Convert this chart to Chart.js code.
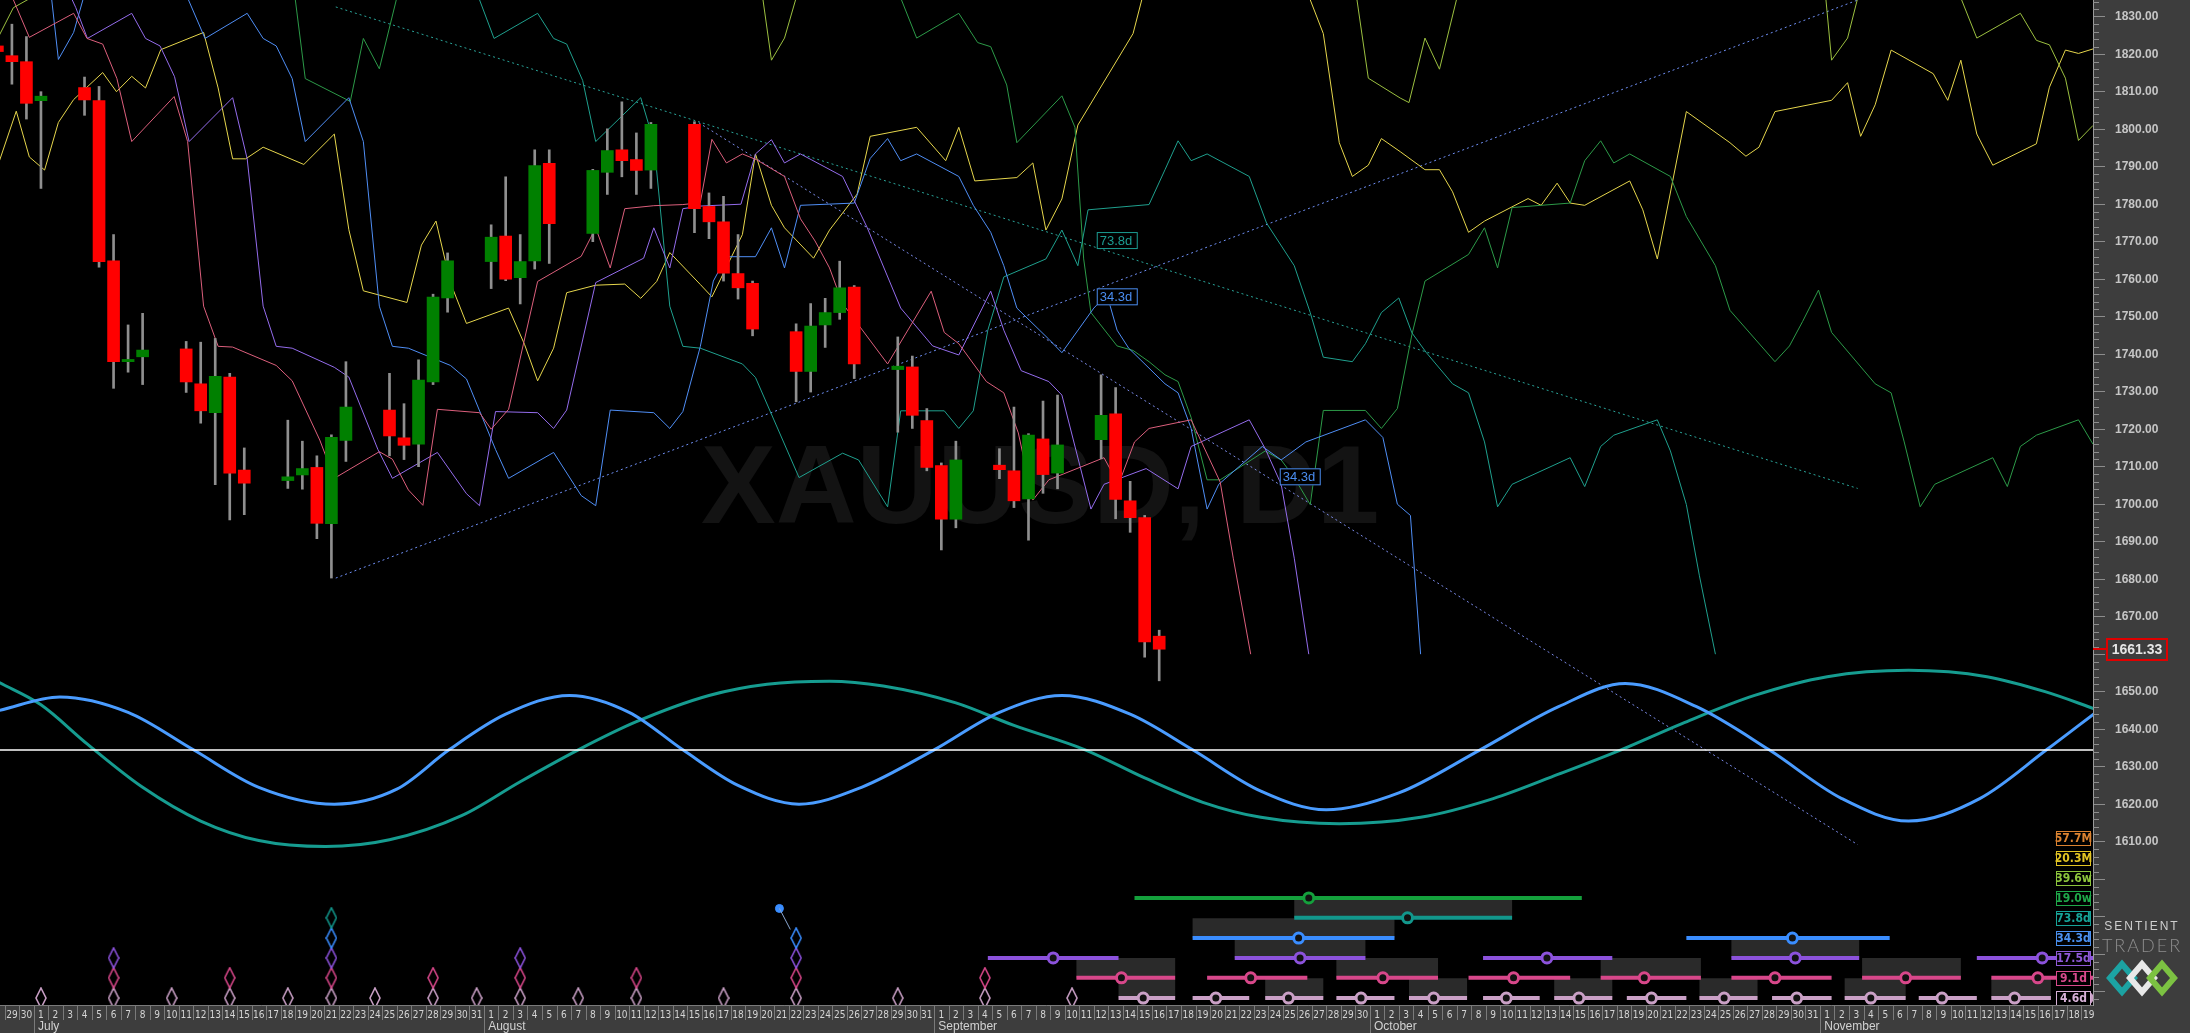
<!DOCTYPE html>
<html>
<head>
<meta charset="utf-8">
<title>XAUUSD, D1</title>
<script src="https://cdn.jsdelivr.net/npm/chart.js@4.4.1/dist/chart.umd.min.js"></script>
<style>
    html, body { margin: 0; padding: 0; background: #3d3d3d; }
    #wrap { width: 2190px; height: 1033px; }
</style>
</head>
<body>
<div id="wrap"><canvas id="xauChart" width="2190" height="1033"></canvas></div>
<script>
// day 0 = 1 July 2022, x axis is in calendar days
const X_MIN = -2.82, X_MAX = 141.3;
const Y_MIN = 1566.45, Y_MAX = 1834.45;

// daily candles
const candleDays = [-3,-2,-1,0, 3,4,5,6,7, 10,11,12,13,14, 17,18,19,20,21, 24,25,26,27,28, 31,32,33,34,35,
    38,39,40,41,42, 45,46,47,48,49, 52,53,54,55,56, 59,60,61,62,63, 66,67,68,69,70, 73,74,75,76,77];
const opens = [1822.2,1819.6,1818.0,1807.6, 1811.1,1807.6,1764.9,1738.0,1739.3, 1741.4,1732.1,1724.4,1733.9,1709.1,
    1706.3,1707.8,1709.8,1694.8,1717.0, 1725.1,1717.7,1716.0,1732.6,1755.0, 1764.7,1771.5,1760.4,1764.9,1790.9,
    1772.2,1788.5,1794.5,1791.9,1789.1, 1801.3,1779.4,1775.3,1761.5,1758.9, 1746.0,1735.4,1747.8,1751.1,1757.9,
    1735.9,1736.6,1722.3,1710.3,1696.0, 1710.4,1708.9,1701.4,1717.4,1708.3, 1717.2,1724.1,1700.9,1696.4,1664.8];
const highs = [1825.0,1828.0,1824.7,1810.0, 1813.9,1811.4,1771.9,1747.8,1750.9, 1743.4,1743.2,1744.2,1734.9,1715.0,
    1722.4,1716.8,1712.9,1718.5,1738.0, 1734.9,1726.8,1738.5,1756.0,1767.0, 1774.5,1787.3,1771.9,1794.5,1794.5,
    1789.3,1800.1,1807.3,1799.0,1801.8, 1802.0,1783.0,1782.1,1771.9,1759.5, 1748.1,1753.5,1754.9,1764.8,1758.3,
    1744.6,1739.5,1725.5,1711.0,1716.8, 1714.8,1725.9,1718.8,1727.5,1729.1, 1734.5,1731.1,1706.1,1697.0,1666.4];
const lows = [1818.0,1812.0,1802.7,1784.2, 1803.7,1763.2,1730.9,1735.2,1731.9, 1729.8,1721.6,1705.2,1695.8,1697.2,
    1704.2,1704.0,1690.8,1680.3,1711.4, 1712.9,1711.9,1710.0,1731.9,1751.2, 1757.5,1759.6,1753.4,1762.7,1764.2,
    1770.0,1782.6,1787.3,1782.6,1784.2, 1772.4,1770.8,1759.5,1754.7,1744.9, 1727.3,1729.9,1741.8,1749.3,1733.5,
    1719.2,1720.2,1708.9,1687.8,1693.7, 1706.8,1699.1,1690.4,1702.9,1704.1, 1712.1,1696.1,1692.5,1659.2,1652.9];
const closes = [1820.7,1818.0,1806.9,1808.8, 1807.8,1764.7,1738.0,1738.6,1741.1, 1732.6,1724.9,1734.1,1708.3,1705.6,
    1707.3,1709.5,1694.9,1717.8,1725.9, 1718.2,1715.7,1733.1,1755.2,1764.9, 1771.2,1760.0,1764.7,1790.3,1774.8,
    1789.0,1794.3,1791.6,1789.0,1801.3, 1778.8,1775.3,1761.6,1757.7,1746.7, 1735.4,1747.5,1751.1,1757.7,1737.4,
    1736.8,1723.7,1709.8,1696.0,1711.8, 1709.2,1700.9,1718.4,1707.9,1715.8, 1723.7,1701.3,1696.4,1663.3,1661.33];
const lastPrice = 1661.33;

// FLD lines, [day, price]
const pinkFld = [[-2.9,1842],[-1.9,1834.5],[-0.8,1824.5],[2.25,1830.9],[3.17,1824.2],[4.25,1822.7],[5.23,1813.5],[6.25,1796.7],
    [9.17,1808.7],[10.1,1796.7],[11.2,1752.8],[12.2,1742.1],[13.2,1741.9],[16.2,1737],[17.3,1732.9],[19.2,1717.1],[20.2,1706.9],
    [23.3,1714],[24.2,1712],[25.3,1703.8],[26.3,1699.7],[27.3,1725.3],[30.2,1724.4],[31,1720],[32.2,1725.3],[34.2,1759.4],
    [37.2,1766.1],[38.2,1773.7],[39.2,1763],[40.2,1778.8],[42.2,1779.6],[44.2,1779.9],[45.4,1780.4],[46.2,1797.3],[47.2,1791],
    [48.3,1793.4],[49.3,1791.8],[51.2,1787.4],[52.3,1776.1],[53.3,1770.2],[54.3,1763],[55.2,1753.5],[58.3,1737.4],[61.3,1756.8],
    [62.2,1745.8],[63.2,1742.8],[65.1,1732.7],[66.3,1729.7],[67.3,1719],[68.3,1701.1],[69.4,1706.5],[73.2,1712.4],[74.2,1705.3],
    [75.3,1716.6],[76.3,1720.2],[79.2,1722.5],[81.2,1705.9],[82.1,1685.6],[83.3,1660]];
const purpleFld = [[-2.9,1845],[1.5,1840],[2.4,1832.4],[3.2,1824.2],[6.25,1830.9],[7.2,1824.2],[8.2,1822.2],[9.2,1814],
    [10.2,1796.7],[13.2,1808.4],[14.2,1792.1],[15.3,1752.8],[16.2,1742.1],[17.3,1741.6],[20.2,1736.5],[21.2,1733.9],[23.2,1714.6],
    [24.2,1706.9],[27.3,1713.8],[29.3,1702.8],[30.2,1699.6],[31.3,1724.7],[34.2,1724.4],[35.3,1720.2],[36.2,1725.1],[38.2,1759.1],
    [41.5,1765.6],[42.2,1773.7],[43.3,1763],[44.2,1778.8],[45.4,1779.5],[48.2,1780],[49.2,1793.4],[50.3,1797.2],[51.2,1791],
    [52.3,1793.4],[55.2,1787.4],[56.9,1773.7],[59.2,1752.3],[61.4,1742.2],[63.2,1739.8],[65.4,1756.8],[66.3,1746.4],[67.5,1735.6],
    [69.4,1732.7],[70.3,1729.1],[72.3,1698.7],[73.2,1705.3],[76.1,1709.5],[78.3,1704.1],[79.2,1715.4],[83.2,1722.5],[84.3,1714.8],
    [85.4,1705.3],[86.3,1685.6],[87.3,1660]];
const blueFld = [[-2.9,1848],[0.7,1836],[1.2,1818.6],[2.25,1825.8],[3.0,1836],[6,1848],[10.1,1835],[11.3,1824.2],[14.2,1830.9],
    [15.3,1824.2],[16.2,1822.2],[17.3,1813.5],[18.2,1796.7],[21.2,1808.4],[22.2,1796.7],[23.3,1752.8],[24.2,1742.1],[25.3,1741.6],
    [28.2,1737],[29.3,1733.4],[31.3,1714.6],[32.2,1706.9],[35.3,1713.8],[37.2,1702.3],[38.2,1699.6],[39.2,1725.1],[42.2,1724.4],
    [43.3,1720.2],[44.2,1724.7],[45.4,1742],[46.3,1759.5],[47.2,1766],[49.2,1766],[50.3,1773.7],[51.2,1763],[52.3,1779.7],
    [56,1780.3],[57.1,1792.2],[58.3,1797.5],[59.2,1791.6],[60.3,1793.4],[63.2,1787.4],[64.2,1779.7],[65.4,1772.5],[66.3,1763.6],
    [67.2,1752.3],[69.4,1744],[70.3,1740.4],[72.5,1752.3],[73.4,1755.9],[74.1,1746.4],[74.9,1741.6],[77.4,1732.1],[78.3,1729.7],
    [79.2,1720.2],[80.3,1698.7],[81.1,1705.3],[84.1,1715.4],[85.4,1711.8],[87.1,1716.6],[91.2,1722.5],[92.4,1717.8],[93.4,1700],
    [94.3,1697],[95.0,1660]];
const tealFld = [[-2.9,1850],[29.5,1840],[30.2,1834.5],[31.2,1824.2],[34.2,1830.9],[35.3,1824.2],[36.2,1822.7],[37.3,1813],
    [38.2,1796.7],[41.3,1808.4],[42.2,1796.7],[43.3,1752.8],[44.2,1742.1],[45.4,1741.6],[48.3,1737.4],[49.2,1733.8],[52.2,1707.1],
    [55.2,1713.6],[56.3,1711.8],[58.3,1699.3],[59.2,1724.9],[62.2,1724.9],[63.2,1720.2],[64.2,1724.9],[65.2,1746.4],[66.3,1760.6],
    [69.2,1765.4],[70.3,1773.1],[71.4,1763.6],[72.1,1778.5],[76.3,1779.9],[77.4,1789.2],[78.3,1796.9],[79.2,1791.6],[80.3,1793.4],
    [83.2,1787.4],[84.4,1774.9],[86.3,1763.6],[87.4,1751.1],[88.3,1739.2],[90.3,1738],[91.2,1742.8],[92.3,1751.1],[93.5,1755],
    [94.4,1745.7],[95.4,1740.4],[97.2,1732.1],[98.3,1729.7],[99.4,1716.6],[100.3,1699.3],[101.3,1705.3],[105.3,1712.4],
    [106.3,1704.7],[107.4,1715.4],[108.3,1718.4],[111.3,1722.5],[112.2,1714.2],[113.3,1699.9],[114.2,1680.9],[115.3,1660]];
const greenFld = [[-2.9,1850],[17.5,1835],[18.2,1813.5],[21.3,1807.4],[22.2,1824.2],[23.3,1816.1],[24.5,1835],[40,1860],
    [59.2,1835],[60.3,1824.3],[63.2,1830.9],[64.5,1823.1],[65.4,1822],[66.5,1811.8],[67.2,1796.4],[70.3,1808.9],[71.2,1800.5],
    [71.8,1765.4],[72.3,1751.1],[74.1,1742.2],[75.2,1741],[76.3,1738],[77.4,1734.5],[78.3,1732.7],[79.2,1723.1],[80.3,1706.5],
    [81.2,1706.5],[84.3,1714.2],[85.4,1711.8],[86.3,1707.1],[87.4,1699.9],[88.3,1725],[91.2,1725],[92.3,1720.2],[93.4,1725.5],
    [94.4,1745.2],[95.3,1759.5],[98.3,1766.6],[99.4,1773.7],[100.3,1763],[101.3,1779.1],[103.3,1779.7],[105.3,1780.3],
    [106.3,1791.6],[107.4,1796.9],[108.3,1791],[109.4,1793.4],[112.2,1787.4],[113.3,1776.7],[115.3,1763.6],[116.3,1751.7],
    [119.4,1738],[120.4,1742.2],[121.3,1748.7],[122.4,1757.1],[123.3,1745.8],[126.3,1732.1],[127.4,1729.7],[128.3,1716.6],
    [129.4,1699.3],[130.4,1705.3],[134.4,1712.4],[135.4,1704.7],[136.3,1715.4],[137.4,1718.4],[140.3,1722.5],[141.3,1716]];
const limeFld = [[-2.9,1824.8],[-1.9,1832.4],[-0.7,1835],[20,1860],[49.7,1835],[50.3,1818.4],[51.2,1824.3],[52,1835],
    [70,1860],[90.6,1835],[91.4,1813.6],[93.6,1808.3],[94.2,1807.1],[95.3,1824.3],[96.3,1816],[97.5,1835],[110,1860],
    [122.9,1835],[123.3,1818.4],[124.4,1824.3],[125.1,1835],[128,1850],[132.2,1835],[133.3,1824.3],[136.3,1830.9],
    [137.4,1823.7],[138.3,1822.5],[139.4,1813.6],[140.3,1797],[141.3,1801]];
const yellowFld = [[-2.9,1791.1],[-1.7,1804.8],[-0.8,1792.6],[0.25,1789.1],[1.2,1801.8],[2.25,1807.9],[4.25,1815.1],[5.2,1810],
    [6.25,1814.1],[7.2,1811],[8.25,1821.2],[11.2,1825.8],[12.2,1811],[13.2,1792.1],[14.1,1792.1],[15.3,1795.2],[18.1,1790.6],
    [20.2,1798.7],[21.2,1773.2],[22.2,1756.9],[25.2,1753.8],[26.2,1769.1],[27.2,1775.5],[28.2,1759],[29.3,1748.2],[32.2,1752.3],
    [33.3,1742.6],[34.2,1732.9],[35.3,1741.6],[36.2,1756.4],[38.2,1758.4],[40.2,1758.7],[41.3,1754.9],[42.4,1759.4],[43.3,1767.1],
    [45.4,1758.6],[46.2,1755.3],[48.3,1771.9],[49.2,1793.4],[50.3,1779.7],[51.2,1773.7],[53.2,1765.6],[54.3,1773.1],[56.2,1782.7],
    [57.1,1798.1],[60.3,1800.5],[62.3,1791.6],[63.2,1800.5],[64.3,1786.2],[67.2,1787.1],[68.3,1791],[69.2,1773.1],[70.3,1781.4],
    [71.4,1801.1],[75.2,1825.5],[75.8,1834.5],[81,1850],[87.4,1834.5],[88.3,1825.5],[89.4,1796.4],[90.3,1787.4],[91.4,1790.4],
    [92.3,1797.5],[93.6,1794],[95.3,1789.2],[96.3,1789.2],[97.2,1783.3],[98.3,1772.5],[99.4,1775.5],[102.4,1781.5],[103.3,1779.7],
    [104.4,1785.6],[105.3,1780.3],[106.3,1779.7],[109.4,1786.2],[110.3,1778.5],[111.3,1765.4],[113.3,1804.7],[116.3,1796.4],
    [117.4,1792.8],[118.3,1795.2],[119.4,1804.7],[123.3,1807.7],[124.4,1812.4],[125.3,1798.1],[126.3,1806.5],[127.4,1821.1],
    [130.3,1814.8],[131.3,1807.7],[132.2,1818.4],[133.3,1798.7],[134.4,1790.4],[137.4,1796.1],[138.3,1811.2],[139.4,1821.1],
    [140.3,1820.2],[141.3,1821.4]];

// dotted trend lines
const trendUp = [[20.3,1680.3],[125.1,1834.45]];
const trendDownBlue = [[45.3,1801.7],[125.1,1609.2]];
const trendDownTeal = [[20.3,1832.6],[125.1,1704.2]];
const trendLabels = ['73.8d', '34.3d', '34.3d'];
const trendLabelDays = [72.7, 72.7, 85.3];
const trendLabelPrices = [1770.3, 1755.3, 1707.3];

// composite cycle waves
const blueWave = [[-2.9,1645],[1.3,1648.6],[6,1644.5],[10.5,1634.5],[15,1624.5],[20.2,1620],[24.5,1624],[28.1,1634.5],
    [32,1644],[36.4,1649],[40.5,1644.5],[44.2,1634.5],[48,1625],[52.2,1620],[56.5,1624.5],[61.5,1634.5],[66,1644.5],
    [70.3,1649],[75,1644],[79.3,1634.5],[84,1623.5],[88.5,1618.5],[93.5,1623],[99.1,1634.5],[104.5,1646],[109.1,1652.2],
    [114,1646],[119,1634.5],[124,1621.5],[128.6,1615.5],[133.5,1621.5],[138.1,1634.5],[141.5,1644.5]];
const tealWave = [[-2.9,1652.5],[0,1646.5],[3.2,1636],[7,1624.5],[11,1615.5],[15,1610.3],[19.6,1608.7],[24,1610.5],
    [29,1617],[33,1626],[37,1634.5],[41,1642],[46,1649],[50,1652],[54.3,1652.8],[58,1651.5],[63,1647],[67,1641],
    [71.9,1634.5],[76,1627],[80,1620.5],[84,1616.5],[89.4,1614.8],[95,1616.5],[100,1621.5],[104.5,1628],[108.8,1634.5],
    [113,1641.5],[118,1649],[123,1654],[128.6,1655.7],[134,1654],[138,1650],[141.5,1645.3]];
const waveZero = 1634.45;

// cycle phase rows: 19.0w, 73.8d, 34.3d, 17.5d, 9.1d, 4.6d
const rowLevels = [1595.0, 1589.7, 1584.3, 1579.0, 1573.7, 1568.3];
const greenPhase = [[75.3,106.1,87.3]];
const tealPhase = [[86.3,101.3,94.1]];
const bluePhase = [[79.3,93.2,86.6],[113.3,127.3,120.6]];
const purplePhase = [[65.2,74.2,69.7],[82.2,91.2,86.7],[99.3,108.2,103.7],[116.4,125.2,120.8],[133.3,141.3,137.8]];
const pinkPhase = [[71.3,78.1,74.4],[80.3,87.2,83.3],[89.2,96.2,92.4],[98.3,105.3,101.4],[107.4,114.3,110.4],
    [116.4,123.3,119.4],[125.4,132.2,128.4],[134.3,141.3,137.5]];
const lilacPhase = [[74.2,78.1,75.9],[79.3,83.2,80.9],[84.3,88.3,85.9],[89.2,93.2,90.9],[94.2,98.2,95.9],[99.3,103.2,100.9],
    [104.2,108.2,105.9],[109.2,113.3,110.9],[114.2,118.2,115.9],[119.2,123.3,120.9],[124.2,128.4,126.0],[129.3,133.3,130.9],
    [134.3,138.4,135.9],[140.9,140.9,140.9]];
const tealBoxes = [[86.3,101.3]];
const blueBoxes = [[79.3,93.2]];
const purpleBoxes = [[82.2,91.2],[116.4,125.2]];
const pinkBoxes = [[71.3,78.1],[89.2,96.2],[107.4,114.3],[125.4,132.2]];
const lilacBoxes = [[74.2,78.1],[84.3,88.3],[94.2,98.2],[104.2,108.2],[114.2,118.2],[124.2,128.4],[134.3,138.4]];

// past cycle troughs (diamonds)
const tealMarks = [20];
const blueMarks = [20, 52];
const purpleMarks = [5, 20, 33, 52];
const pinkMarks = [5, 13, 20, 27, 33, 41, 52, 65];
const lilacMarks = [0, 5, 9, 13, 17, 20, 23, 27, 30, 33, 37, 41, 47, 52, 59, 65, 71];
const pivotDot = [[50.85, 1592.2]];
const pivotStem = [[50.85, 1592.2], [51.6, 1586.6]];

// cycle legend at right
const cycleLabels = ['57.7M', '20.3M', '39.6w', '19.0w', '73.8d', '34.3d', '17.5d', '9.1d', '4.6d'];
const cycleLabelLevels = [1611.0, 1605.6, 1600.3, 1595.0, 1589.7, 1584.3, 1579.0, 1573.7, 1568.3];
const cycleColors = ['#db8230', '#e2c423', '#8cc43c', '#1fa84a', '#17a398', '#4a90f0', '#8f5ad8', '#d84a8c', '#d6b0d6'];

const monthNames = ['July', 'August', 'September', 'October', 'November'];
const monthStarts = [0, 31, 62, 92, 123];

const FONT = "'Liberation Sans', Arial, sans-serif";
const NARROW = "'Liberation Sans Narrow', 'DejaVu Sans Condensed', 'Liberation Sans', sans-serif";

const toXY = pts => pts.map(p => ({ x: p[0], y: p[1] }));

function lineSet(pts, color, order, extra) {
    return Object.assign({
        type: 'line', data: toXY(pts), borderColor: color, borderWidth: 1,
        pointRadius: 0, tension: 0, fill: false, order: order
    }, extra || {});
}

function segData(segs, level) {
    const out = [];
    segs.forEach(s => {
        out.push({ x: s[0], y: level }, { x: s[1], y: level }, { x: s[1] + 0.05, y: null });
    });
    return out;
}

function diamondImage(color) {
    const c = document.createElement('canvas');
    c.width = 12; c.height = 22;
    const g = c.getContext('2d');
    g.strokeStyle = color;
    g.lineWidth = 1.6;
    g.beginPath();
    g.moveTo(6, 1); g.lineTo(11, 11); g.lineTo(6, 21); g.lineTo(1, 11);
    g.closePath();
    g.stroke();
    return c;
}

const datasets = [];

// candles: bodies over wicks
datasets.push({
    type: 'bar',
    data: candleDays.map((d, i) => ({ x: d, y: [Math.min(opens[i], closes[i]), Math.max(opens[i], closes[i])] })),
    backgroundColor: candleDays.map((d, i) => closes[i] >= opens[i] ? '#008000' : '#ff0000'),
    barThickness: 12, grouped: false, order: 1
});
datasets.push({
    type: 'bar',
    data: candleDays.map((d, i) => ({ x: d, y: [lows[i], highs[i]] })),
    backgroundColor: '#8f8f8f', barThickness: 2, grouped: false, order: 2
});

// cycle rows
const rowColors = ['#14a03c', '#12978c', '#3a8dff', '#8c52dc', '#d8478a', '#caa0c6'];
const rowSegs = [greenPhase, tealPhase, bluePhase, purplePhase, pinkPhase, lilacPhase];
const rowBoxes = [[], tealBoxes, blueBoxes, purpleBoxes, pinkBoxes, lilacBoxes];
const rowMarks = [[], tealMarks, blueMarks, purpleMarks, pinkMarks, lilacMarks];
const rowStep = rowLevels[0] - rowLevels[1];

rowLevels.forEach((lvl, i) => {
    datasets.push({
        type: 'line', data: rowSegs[i].map(s => ({ x: s[2], y: lvl })),
        showLine: false, pointRadius: 5, pointBorderWidth: 3, pointBorderColor: rowColors[i],
        pointBackgroundColor: '#111111', order: 3
    });
    datasets.push({
        type: 'line', data: rowMarks[i].map(d => ({ x: d, y: lvl })),
        showLine: false, pointRadius: 5, pointStyle: diamondImage(rowColors[i]), order: 3
    });
    datasets.push({
        type: 'line', data: segData(rowSegs[i], lvl), borderColor: rowColors[i], borderWidth: 4,
        borderCapStyle: 'butt', pointRadius: 0, spanGaps: false, order: 4
    });
    datasets.push({
        type: 'line', data: segData(rowBoxes[i], lvl + rowStep / 2), borderColor: '#2a2a2a', borderWidth: 20,
        borderCapStyle: 'butt', pointRadius: 0, spanGaps: false, order: 5
    });
});
datasets.push(lineSet(pivotStem, '#8aa6d0', 3));
datasets.push({
    type: 'line', data: toXY(pivotDot), showLine: false, pointRadius: 4,
    pointBackgroundColor: '#3a8dff', pointBorderColor: '#3a8dff', order: 3
});

// waves and zero line
datasets.push(lineSet([[X_MIN, waveZero], [X_MAX, waveZero]], '#ffffff', 6, { borderWidth: 1.5 }));
datasets.push(lineSet(blueWave, '#4a9cff', 7, { borderWidth: 3, cubicInterpolationMode: 'monotone' }));
datasets.push(lineSet(tealWave, '#169c90', 7, { borderWidth: 3, cubicInterpolationMode: 'monotone' }));

// FLDs
datasets.push(lineSet(pinkFld, '#dc5f7c', 8));
datasets.push(lineSet(purpleFld, '#946cec', 8));
datasets.push(lineSet(blueFld, '#4f8ef5', 8));
datasets.push(lineSet(tealFld, '#1fa08e', 8));
datasets.push(lineSet(greenFld, '#2c9a48', 8));
datasets.push(lineSet(limeFld, '#9cc040', 8));
datasets.push(lineSet(yellowFld, '#e6d64c', 8));

// trend lines
datasets.push(lineSet(trendUp, '#6f8ff5', 9, { borderDash: [2, 3] }));
datasets.push(lineSet(trendDownBlue, '#7b8ae8', 9, { borderDash: [2, 3] }));
datasets.push(lineSet(trendDownTeal, '#2aa59a', 9, { borderDash: [2, 3] }));

const trendLabelColors = ['#1c9c92', '#4a8df0', '#4a8df0'];

const chartDecor = {
    id: 'chartDecor',
    beforeDraw(chart) {
        const { ctx, chartArea: a } = chart;
        ctx.save();
        ctx.fillStyle = '#3d3d3d';
        ctx.fillRect(0, 0, chart.width, chart.height);
        ctx.fillStyle = '#000000';
        ctx.fillRect(a.left, a.top, a.right - a.left, a.bottom - a.top);
        ctx.restore();
    },
    beforeDatasetsDraw(chart) {
        const { ctx } = chart;
        const xs = chart.scales.x, ys = chart.scales.y;
        ctx.save();
        ctx.font = 'bold 112px ' + FONT;
        ctx.fillStyle = '#131313';
        ctx.textAlign = 'center';
        ctx.textBaseline = 'middle';
        ctx.fillText('XAUUSD, D1', xs.getPixelForValue(68.8), ys.getPixelForValue(1703.3));
        ctx.restore();
    },
    afterDatasetsDraw(chart) {
        const { ctx, chartArea: a } = chart;
        const xs = chart.scales.x, ys = chart.scales.y;
        ctx.save();
        ctx.font = '13px ' + FONT;
        ctx.textBaseline = 'middle';
        ctx.textAlign = 'left';
        trendLabels.forEach((t, i) => {
            const x = xs.getPixelForValue(trendLabelDays[i]);
            const y = ys.getPixelForValue(trendLabelPrices[i]);
            ctx.fillStyle = '#000';
            ctx.fillRect(x, y - 8.5, 41, 17);
            ctx.strokeStyle = trendLabelColors[i];
            ctx.lineWidth = 1;
            ctx.strokeRect(x + 0.5, y - 8, 40, 16);
            ctx.fillStyle = trendLabelColors[i];
            ctx.fillText(t, x + 3, y + 0.5);
        });
        ctx.font = 'bold 12px ' + NARROW;
        ctx.textAlign = 'center';
        cycleLabels.forEach((t, i) => {
            const y = Math.round(ys.getPixelForValue(cycleLabelLevels[i]));
            const x0 = a.right - 37;
            ctx.fillStyle = '#000';
            ctx.fillRect(x0, y - 7, 35, 15);
            ctx.strokeStyle = cycleColors[i];
            ctx.lineWidth = 1;
            ctx.strokeRect(x0 + 0.5, y - 6.5, 34, 14);
            ctx.fillStyle = cycleColors[i];
            ctx.fillText(t, x0 + 17.5, y + 1);
        });
        ctx.restore();
    },
    afterDraw(chart) {
        const { ctx, chartArea: a } = chart;
        const xs = chart.scales.x, ys = chart.scales.y;
        ctx.save();
        // day separators
        ctx.strokeStyle = '#7a7a7a';
        ctx.lineWidth = 1;
        ctx.beginPath();
        ctx.moveTo(a.left, a.bottom + 0.5);
        ctx.lineTo(a.right, a.bottom + 0.5);
        for (let k = -3; k <= 141; k++) {
            const x = Math.round(xs.getPixelForValue(k + 0.5)) + 0.5;
            if (x > a.right) continue;
            const isMonth = monthStarts.indexOf(k + 1) >= 0;
            ctx.moveTo(x, a.bottom);
            ctx.lineTo(x, isMonth ? chart.height : a.bottom + 15);
        }
        ctx.stroke();
        // months
        ctx.fillStyle = '#d2d2d2';
        ctx.font = '12px ' + FONT;
        ctx.textAlign = 'left';
        ctx.textBaseline = 'middle';
        monthNames.forEach((m, i) => {
            ctx.fillText(m, xs.getPixelForValue(monthStarts[i]) - 3, a.bottom + 22);
        });
        // minor price ticks
        ctx.strokeStyle = '#8c8c8c';
        ctx.beginPath();
        for (let v = 1568; v <= 1834; v += 2) {
            if (v % 10 === 0) continue;
            const y = Math.round(ys.getPixelForValue(v)) + 0.5;
            ctx.moveTo(a.right, y);
            ctx.lineTo(a.right + 6, y);
        }
        ctx.stroke();
        // last price marker
        const py = Math.round(ys.getPixelForValue(lastPrice));
        ctx.strokeStyle = '#e00000';
        ctx.lineWidth = 2;
        ctx.beginPath();
        ctx.moveTo(a.right, py);
        ctx.lineTo(a.right + 14, py);
        ctx.stroke();
        ctx.fillStyle = '#3d3d3d';
        ctx.fillRect(a.right + 14, py - 10, 60, 21);
        ctx.strokeRect(a.right + 14, py - 10, 60, 21);
        ctx.fillStyle = '#e6e6e6';
        ctx.font = 'bold 14px ' + FONT;
        ctx.textAlign = 'center';
        ctx.fillText(lastPrice.toFixed(2), a.right + 44, py + 1);
        // logo
        const lx = a.right + 49;
        ctx.letterSpacing = '2px';
        ctx.fillStyle = '#cfcfcf';
        ctx.font = '12px ' + FONT;
        ctx.fillText('SENTIENT', lx, 927);
        ctx.fillStyle = '#8d8d8d';
        ctx.font = '300 18px Lato, ' + FONT;
        ctx.fillText('TRADER', lx, 946);
        ctx.letterSpacing = '0px';
        const logoColors = ['#1ca3a3', '#e8e8e8', '#7cc242'];
        [-20, 0, 20].forEach((off, i) => {
            ctx.strokeStyle = logoColors[i];
            ctx.lineWidth = 6;
            ctx.beginPath();
            ctx.moveTo(lx + off - 12, 978);
            ctx.lineTo(lx + off, 964);
            ctx.lineTo(lx + off + 12, 978);
            ctx.lineTo(lx + off, 992);
            ctx.closePath();
            ctx.stroke();
        });
        ctx.restore();
    }
};

const dayLabel = v => Number.isInteger(v) ? String(new Date(2022, 6, 1 + v).getDate()) : '';

const chartCtx = document.getElementById('xauChart').getContext('2d');
new Chart(chartCtx, {
    type: 'bar',
    data: { datasets: datasets },
    options: {
        responsive: false,
        animation: false,
        devicePixelRatio: 1,
        events: [],
        layout: { padding: 0, autoPadding: false },
        plugins: {
            legend: { display: false },
            tooltip: { enabled: false }
        },
        scales: {
            x: {
                type: 'linear',
                min: X_MIN,
                max: X_MAX,
                offset: false,
                grid: { display: false, drawTicks: false },
                border: { display: false },
                ticks: {
                    stepSize: 1,
                    autoSkip: false,
                    maxRotation: 0,
                    includeBounds: false,
                    padding: 4,
                    color: '#d4d4d4',
                    font: { family: NARROW, size: 10 },
                    callback: dayLabel
                },
                afterFit: s => {
                    s.height = 28;
                    s.paddingLeft = 0; s.paddingRight = 0; s.paddingTop = 0; s.paddingBottom = 0;
                }
            },
            y: {
                type: 'linear',
                position: 'right',
                min: Y_MIN,
                max: Y_MAX,
                beginAtZero: false,
                grid: { drawOnChartArea: false, drawTicks: true, tickLength: 12, color: '#8c8c8c' },
                border: { display: true, color: '#9a9a9a' },
                ticks: {
                    stepSize: 10,
                    includeBounds: false,
                    padding: 10,
                    color: '#c6c6c6',
                    font: { family: FONT, size: 12, weight: 'bold' },
                    callback: v => (v >= 1610 && v !== 1660) ? v.toFixed(2) : ''
                },
                afterFit: s => {
                    s.width = 97;
                    s.paddingLeft = 0; s.paddingRight = 0; s.paddingTop = 0; s.paddingBottom = 0;
                }
            }
        }
    },
    plugins: [chartDecor]
});
</script>
</body>
</html>
